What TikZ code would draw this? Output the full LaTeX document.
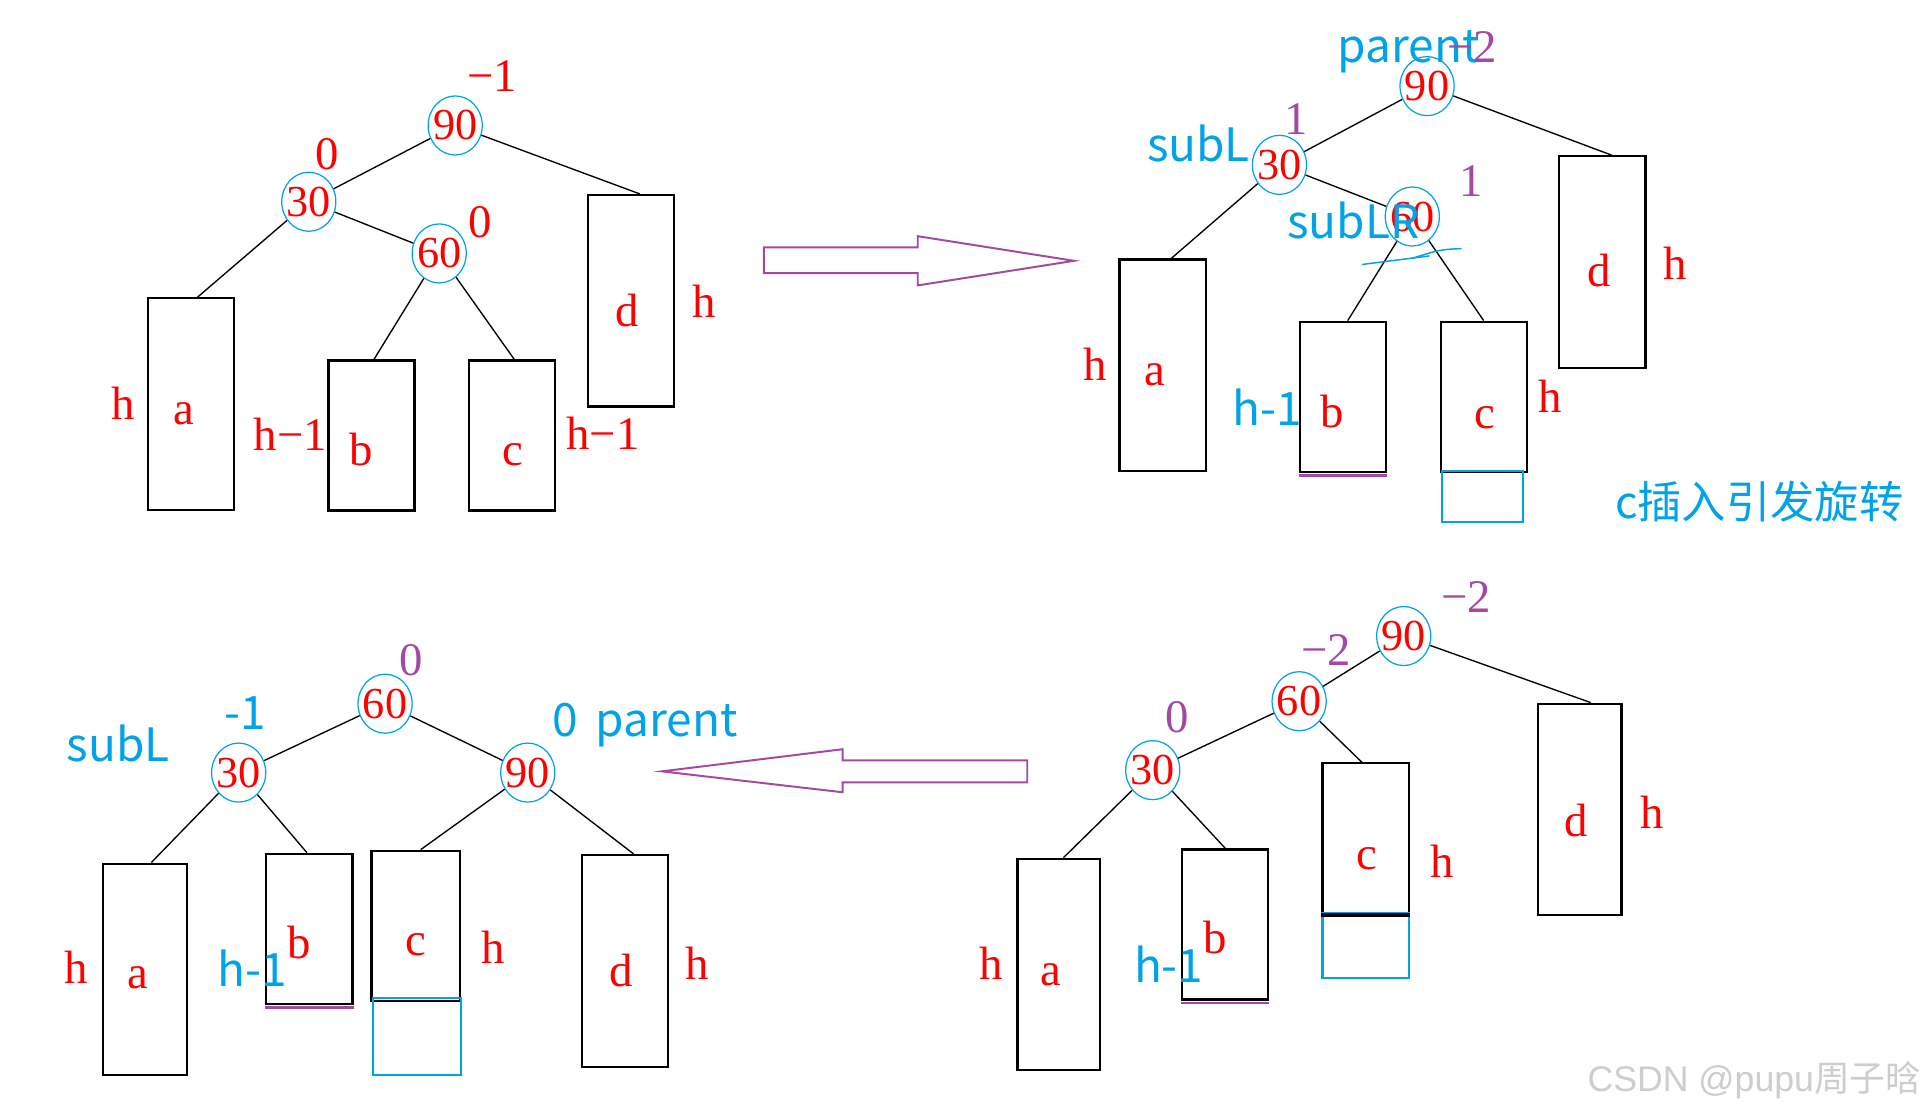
\documentclass[tikz,border=0pt]{standalone}
\usepackage{fontspec}
\setmainfont{Liberation Serif}
\newfontfamily\cjk{Noto Sans CJK SC}
\newfontfamily\marksans{Liberation Sans}
\usetikzlibrary{shapes.geometric}
\definecolor{avlred}{RGB}{255,0,0}
\definecolor{avlblue}{RGB}{0,162,232}
\definecolor{avlpurple}{RGB}{163,73,164}
\definecolor{marksilver}{RGB}{205,205,205}

\begin{document}
\begin{tikzpicture}[x=0.5pt,y=-0.5pt,
    num/.style={text=avlred,font=\fontsize{18}{18}\selectfont,inner sep=0pt},
    keynode/.style={draw=avlblue,line width=0.5pt,ellipse,minimum width=22pt,minimum height=24pt,inner sep=0pt,label={[num]center:#1}},
    subtree/.style={draw,line width=0.9pt,minimum width=35pt,inner sep=0pt},
    tall/.style={subtree,minimum height=86pt},
    short/.style={subtree,minimum height=61pt},
    added/.style={draw=avlblue,line width=0.9pt,inner sep=0pt},
    redtxt/.style={text=avlred,font=\fontsize{19}{19}\selectfont,inner sep=0pt},
    bluetxt/.style={text=avlblue,font=\cjk\fontsize{18.7}{18.7}\selectfont,inner sep=0pt},
    bftxt/.style={text=avlpurple,font=\fontsize{19}{19}\selectfont,inner sep=0pt},
    link/.style={line width=0.55pt},
    bline/.style={draw=avlpurple,line width=1pt},
    bigarrow/.style={draw=avlpurple,line width=0.8pt,line join=miter}]
  \useasboundingbox (0,0) rectangle (1568,904);

  % before the insertion: 90 / 30 / 60
  \node[keynode=90] (k90a) at (370,102) {};
  \node[keynode=30] (k30a) at (251,164) {};
  \node[keynode=60] (k60a) at (357,206) {};
  \node[tall] (aA) at (155.5,328.5) {};
  \node[short] (bA) at (302,354) {};
  \node[short] (cA) at (416,354) {};
  \node[tall] (dA) at (513,244.5) {};
  \node[redtxt] at ([shift={(-6,8)}]aA.center) {a};
  \node[redtxt] at ([shift={(-8.5,11)}]bA.center) {b};
  \node[redtxt] at ([shift={(1,16)}]cA.center) {c};
  \node[redtxt] at ([shift={(-3,8)}]dA.center) {d};
  \draw[link] (k90a) -- (k30a);
  \draw[link] (k90a) -- ([xshift=3.5pt]dA.north);
  \draw[link] (k30a) -- ([xshift=2.5pt]aA.north);
  \draw[link] (k30a) -- (k60a);
  \draw[link] (k60a) -- ([xshift=1pt]bA.north);
  \draw[link] (k60a) -- ([xshift=1pt]cA.north);
  \node[redtxt] at (400,62) {−1};
  \node[redtxt] at (266,125) {0};
  \node[redtxt] at (390,181) {0};
  \node[redtxt] at (100,328) {h};
  \node[redtxt] at (236,353) {h−1};
  \node[redtxt] at (490,352) {h−1};
  \node[redtxt] at (572,245) {h};

  \draw[bigarrow] (621,201) -- (746,201) -- (746,192) -- (873,212) -- (746,232) -- (746,222) -- (621,222) -- cycle;

  % c inserted: parent / subL / subLR
  \node[keynode=90] (k90b) at (1160,70) {};
  \node[keynode=30] (k30b) at (1040,134) {};
  \node[keynode=60] (k60b) at (1148,176) {};
  \node[tall] (aB) at (945,297) {};
  \node[short] (bB) at (1091.5,322.5) {};
  \node[short] (cB) at (1206,322.5) {};
  \node[tall] (dB) at (1302.5,213) {};
  \node[added,minimum width=33pt,minimum height=20.5pt] (newB) at (1205,403.5) {};
  \node[redtxt] at ([shift={(-6,8)}]aB.center) {a};
  \node[redtxt] at ([shift={(-8.5,12)}]bB.center) {b};
  \node[redtxt] at ([shift={(1,17)}]cB.center) {c};
  \node[redtxt] at ([shift={(-3,7)}]dB.center) {d};
  \draw[link] (k90b) -- (k30b);
  \draw[link] (k90b) -- ([xshift=3.75pt]dB.north);
  \draw[link] (k30b) -- ([xshift=3.5pt]aB.north);
  \draw[link] (k30b) -- (k60b);
  \draw[link] (k60b) -- ([xshift=2pt]bB.north);
  \draw[link] (k60b) -- (cB.north);
  \draw[bline] ([yshift=-1pt]bB.south west) -- ([yshift=-1pt]bB.south east);
  \node[bluetxt,anchor=base west] (parB) at (1087,51) {parent};
  \node[bftxt,anchor=base west] at (1176,51) {−2};
  \node[bftxt] at (1054,97) {1};
  \node[bluetxt,anchor=base west] (subLB) at (932,131.5) {subL};
  \node[bftxt] at (1196,147) {1};
  \node[bluetxt,anchor=base west] (subLRB) at (1046,193.6) {subLR};
  \draw[avlblue,line width=0.6pt] (1107,215) .. controls (1135,211) .. (1162,208);
  \draw[avlblue,line width=0.6pt] (1148,210) .. controls (1170,203) .. (1188,202);
  \node[redtxt] at (890,296) {h};
  \node[bluetxt] at (1030,331) {h-1};
  \node[redtxt] at (1260,322) {h};
  \node[redtxt] at (1362,214) {h};
  \node[bluetxt,font=\cjk\fontsize{18}{18}\selectfont] (cause) at (1430,408) {c插入引发旋转};

  % after the double rotation: 60 on top
  \node[keynode=60] (k60c) at (313,572) {};
  \node[keynode=30] (k30c) at (194,628) {};
  \node[keynode=90] (k90c) at (429,628) {};
  \node[tall,minimum width=34pt] (aC) at (118,788) {};
  \node[short] (bC) at (251.5,755) {};
  \node[short,minimum width=36pt] (cC) at (338,752.5) {};
  \node[tall] (dC) at (508,781) {};
  \node[added,minimum width=36pt,minimum height=31.5pt] (newC) at (339,842.5) {};
  \node[redtxt] at ([shift={(-6,7)}]aC.center) {a};
  \node[redtxt] at ([shift={(-8.5,11)}]bC.center) {b};
  \node[redtxt] at ([shift={(0,15.5)}]cC.center) {c};
  \node[redtxt] at ([shift={(-3,8)}]dC.center) {d};
  \draw[link] (k60c) -- (k30c);
  \draw[link] (k60c) -- (k90c);
  \draw[link] (k30c) -- ([xshift=2.5pt]aC.north);
  \draw[link] (k30c) -- ([xshift=-1pt]bC.north);
  \draw[link] (k90c) -- ([xshift=2pt]cC.north);
  \draw[link] (k90c) -- ([xshift=3.5pt]dC.north);
  \draw[bline] ([yshift=-1pt]bC.south west) -- ([yshift=-1pt]bC.south east);
  \node[bftxt] at (334,537) {0};
  \node[bluetxt] at (199,580) {-1};
  \node[bluetxt,anchor=base west] (subLC) at (54,619) {subL};
  \node[bluetxt,anchor=base west] (parC) at (449,599) {0\hspace{7pt}parent};
  \node[redtxt] at (62,786) {h};
  \node[bluetxt] at (205,787) {h-1};
  \node[redtxt] at (401,770) {h};
  \node[redtxt] at (567,783) {h};

  \draw[bigarrow] (835,618) -- (685,618) -- (685,609) -- (538,627) -- (685,644) -- (685,636) -- (835,636) -- cycle;

  % after the left rotation on 30
  \node[keynode=90] (k90d) at (1141,517) {};
  \node[keynode=60] (k60d) at (1056,570) {};
  \node[keynode=30] (k30d) at (937,626) {};
  \node[tall,minimum width=33.5pt] (aD) at (860.5,784) {};
  \node[short] (bD) at (996,751.5) {};
  \node[short] (cD) at (1110,681.5) {};
  \node[tall,minimum width=34pt] (dD) at (1284,658) {};
  \node[added,minimum width=35pt,minimum height=26.5pt] (newD) at (1110,768.5) {};
  \draw[line width=1.6pt] (cD.south west) -- (cD.south east);
  \node[redtxt] at ([shift={(-6.5,8)}]aD.center) {a};
  \node[redtxt] at ([shift={(-8,10.5)}]bD.center) {b};
  \node[redtxt] at ([shift={(1,16.5)}]cD.center) {c};
  \node[redtxt] at ([shift={(-3,9)}]dD.center) {d};
  \draw[link] (k90d) -- (k60d);
  \draw[link] (k90d) -- ([xshift=4.5pt]dD.north);
  \draw[link] (k60d) -- (k30d);
  \draw[link] (k60d) -- ([xshift=-1.5pt]cD.north);
  \draw[link] (k30d) -- ([xshift=2pt]aD.north);
  \draw[link] (k30d) -- (bD.north);
  \draw[bline] ([yshift=-1pt]bD.south west) -- ([yshift=-1pt]bD.south east);
  \node[bftxt] at (1192,485) {−2};
  \node[bftxt] at (1078,528) {−2};
  \node[bftxt] at (957,583) {0};
  \node[redtxt] at (806,783) {h};
  \node[bluetxt] at (950,784) {h-1};
  \node[redtxt] at (1172,700) {h};
  \node[redtxt] at (1343,660) {h};

  \node[anchor=east,inner sep=0pt,text=marksilver,font=\marksans\fontsize{14.5}{14.5}\selectfont] (credit) at (1562,878) {CSDN @pupu{\cjk 周子晗}};
\end{tikzpicture}
\end{document}
